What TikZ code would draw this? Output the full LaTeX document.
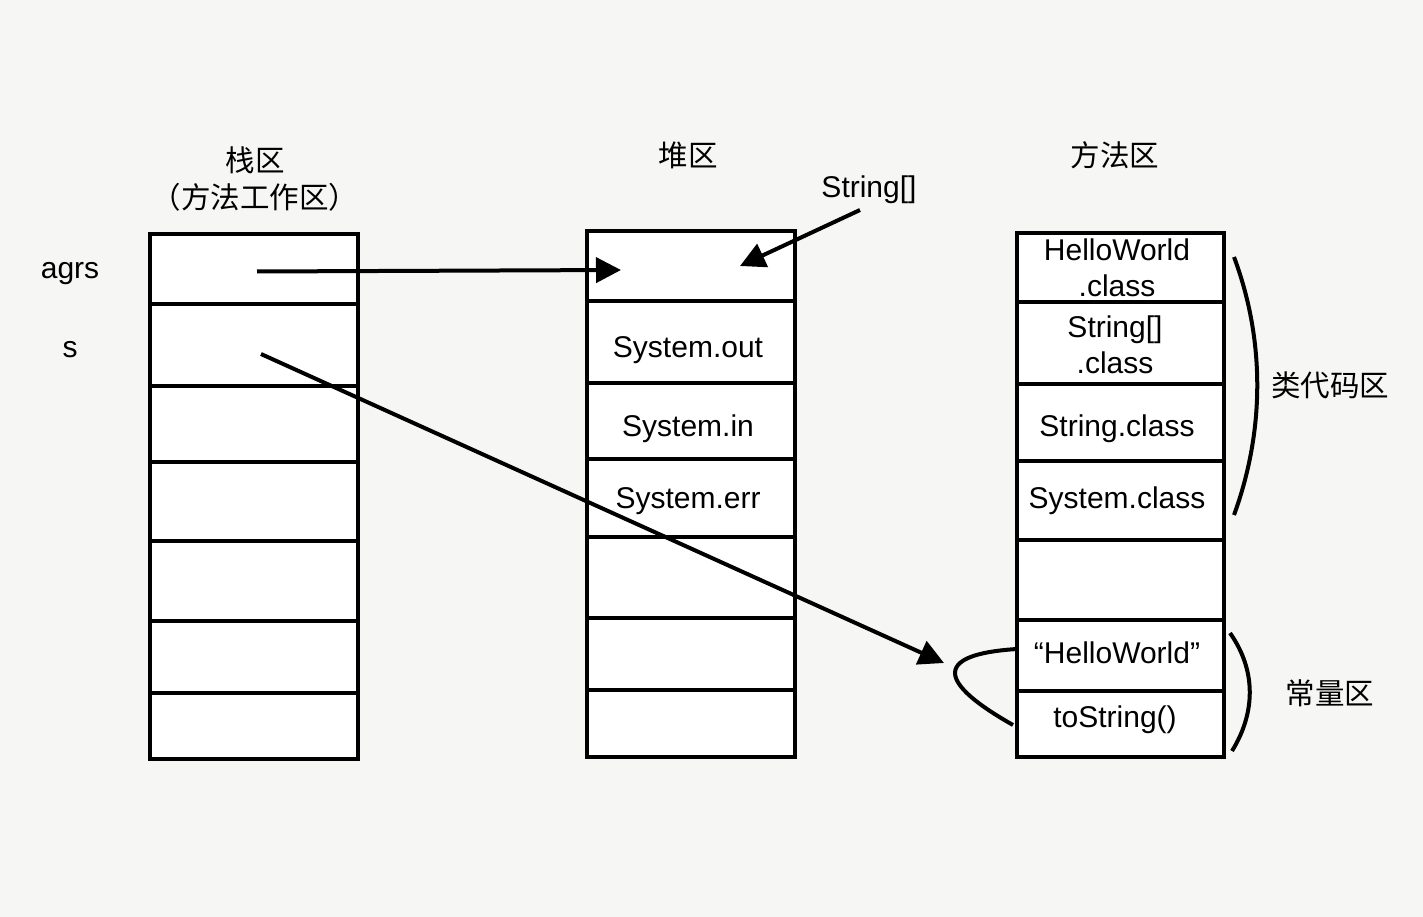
\documentclass[tikz,border=0pt]{standalone}
\usepackage{fontspec}
\setmainfont{Liberation Sans}
\newfontfamily\cjk{Noto Sans CJK SC}
\usetikzlibrary{arrows.meta}
\definecolor{bg}{RGB}{246,246,244}
\begin{document}
\begin{tikzpicture}[x=1pt,y=-1pt,
  cell/.style={draw, line width=4pt, fill=white, minimum width=208pt, inner sep=0pt, outer sep=0pt},
  lbl/.style={font=\fontsize{30}{35}\selectfont, inner sep=0pt, anchor=base},
  cjklbl/.style={font=\fontsize{29.5}{34}\selectfont\cjk, inner sep=0pt, anchor=base},
  ptr/.style={line width=4pt, -{Triangle[length=25pt,width=25pt]}},
  brace/.style={line width=4pt}]
\useasboundingbox (0,0) rectangle (1423,917);
\fill[bg] (0,0) rectangle (1423,917);

% stack column
\node[cell, minimum height=70pt] (s1) at (254,269) {};
\node[cell, minimum height=82pt] (s2) at (254,345) {};
\node[cell, minimum height=76pt] (s3) at (254,424) {};
\node[cell, minimum height=79pt] (s4) at (254,501.5) {};
\node[cell, minimum height=80pt] (s5) at (254,581) {};
\node[cell, minimum height=72pt] (s6) at (254,657) {};
\node[cell, minimum height=66pt] (s7) at (254,726) {};

% heap column
\node[cell, minimum height=70pt] (h1) at (691,266) {};
\node[cell, minimum height=82pt] (h2) at (691,342) {};
\node[cell, minimum height=76pt] (h3) at (691,421) {};
\node[cell, minimum height=78pt] (h4) at (691,498) {};
\node[cell, minimum height=81pt] (h5) at (691,577.5) {};
\node[cell, minimum height=72pt] (h6) at (691,654) {};
\node[cell, minimum height=67pt] (h7) at (691,723.5) {};

% method area column
\node[cell, minimum width=207pt, minimum height=69pt] (m1) at (1120.5,267.5) {};
\node[cell, minimum width=207pt, minimum height=82pt] (m2) at (1120.5,343) {};
\node[cell, minimum width=207pt, minimum height=77pt] (m3) at (1120.5,422.5) {};
\node[cell, minimum width=207pt, minimum height=79pt] (m4) at (1120.5,500.5) {};
\node[cell, minimum width=207pt, minimum height=80pt] (m5) at (1120.5,580) {};
\node[cell, minimum width=207pt, minimum height=71pt] (m6) at (1120.5,655.5) {};
\node[cell, minimum width=207pt, minimum height=66pt] (m7) at (1120.5,724) {};

% titles
\node[cjklbl] (t1) at (255,172) {栈区};
\node[cjklbl] (t1b) at (255,209) {（方法工作区）};
\node[cjklbl] (t2) at (688,167) {堆区};
\node[cjklbl] (t3) at (1115,167) {方法区};
\node[lbl] (tarr) at (869,198) {String[]};

% stack labels
\node[lbl] (agrs) at (70,278) {agrs};
\node[lbl] (svar) at (70,357) {s};

% heap texts
\node[lbl] (hout) at (688,357) {System.out};
\node[lbl] (hin) at (688,436) {System.in};
\node[lbl] (herr) at (688,508) {System.err};

% method texts
\node[lbl] (mhw1) at (1117,260) {HelloWorld};
\node[lbl] (mhw2) at (1117,296) {.class};
\node[lbl] (msa1) at (1115,337) {String[]};
\node[lbl] (msa2) at (1115,373) {.class};
\node[lbl] (mstr) at (1117,436) {String.class};
\node[lbl] (msys) at (1117,508) {System.class};
\node[lbl] (mhws) at (1117,663) {“HelloWorld”};
\node[lbl] (mtos) at (1115,727) {toString()};

% region labels
\node[cjklbl] (lcls) at (1330,396) {类代码区};
\node[cjklbl] (lcon) at (1330,704) {常量区};

% arrow endpoints
\coordinate (a1s) at (257,271.5);
\coordinate (a1e) at (621,270);
\coordinate (a2s) at (860,210);
\coordinate (a2e) at (740,266);
\coordinate (a3s) at (261,354);
\coordinate (a3e) at (944,663);

\draw[ptr] (a1s) -- (a1e);
\draw[ptr] (a2s) -- (a2e);
\draw[ptr] (a3s) -- (a3e);

% braces
\coordinate (b1t) at (1234,257);
\coordinate (b1b) at (1234,515);
\draw[brace] (b1t) .. controls (1265,340) and (1265,430) .. (b1b);
\coordinate (b2t) at (1230,633);
\coordinate (b2b) at (1232,751);
\draw[brace] (b2t) .. controls (1256,670) and (1256,712) .. (b2b);

% loop
\coordinate (l1) at (1017,649);
\coordinate (l2) at (955,673);
\coordinate (l3) at (1013,725);
\draw[brace] (l1) .. controls (985,651) and (955,657) .. (l2) .. controls (955,690) and (990,712) .. (l3);
\end{tikzpicture}
\end{document}
